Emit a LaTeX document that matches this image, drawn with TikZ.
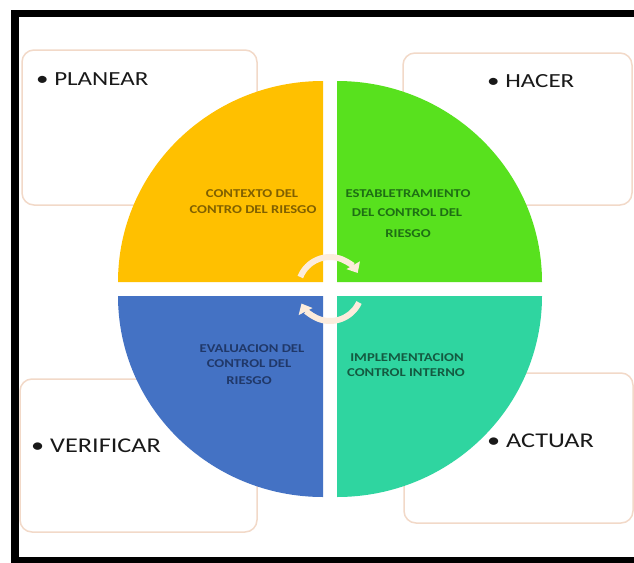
\documentclass[tikz,border=0pt]{standalone}
\usepackage{fontspec}
\setmainfont{Carlito}
\newfontfamily\labfont[FakeStretch=1.25]{Carlito}
\newfontfamily\innfont[FakeStretch=1.22]{Carlito}
\usetikzlibrary{arrows.meta}
\definecolor{qOrange}{RGB}{255,192,0}
\definecolor{qGreen}{RGB}{88,225,30}
\definecolor{qBlue}{RGB}{68,114,196}
\definecolor{qTeal}{RGB}{47,213,160}
\definecolor{tOrange}{RGB}{128,96,0}
\definecolor{tGreen}{RGB}{30,110,20}
\definecolor{tBlue}{RGB}{32,56,105}
\definecolor{tTeal}{RGB}{20,90,65}
\definecolor{peach}{RGB}{242,217,200}
\definecolor{cream}{RGB}{252,236,220}
\definecolor{labgray}{RGB}{25,25,25}
\tikzset{
  boxst/.style={draw=peach, line width=1.5pt, fill=white, rounded corners=12pt, inner sep=0pt},
  lab/.style={font=\labfont\fontsize{20}{24}\selectfont, text=labgray, inner sep=0pt, anchor=base west},
  inn/.style={font=\innfont\bfseries\fontsize{12}{14}\selectfont, inner sep=0pt, anchor=base},
  cyc/.style={draw=cream, line width=6pt, -{Triangle[width=15pt,length=9pt]}}
}
\begin{document}
\begin{tikzpicture}[x=1pt,y=-1pt]
\useasboundingbox (0,0) rectangle (634,562);
\clip (0,0) rectangle (634,562);
% frame
\fill[black] (11,10) rectangle (660,590);
\fill[white] (18.5,17) rectangle (660,557);
% boxes
\node[boxst, minimum width=235pt, minimum height=155pt] (bplan) at (139.5,127.5) {};
\node[boxst, minimum width=229pt, minimum height=152pt] (bhacer) at (517.5,129) {};
\node[boxst, minimum width=237pt, minimum height=153pt] (bverif) at (138.5,455.5) {};
\node[boxst, minimum width=229pt, minimum height=150pt] (bactuar) at (518.5,448) {};
% quarters
\fill[qOrange] (323,282) -- (118,282) arc[start angle=180, end angle=270, x radius=205, y radius=201] -- cycle;
\fill[qGreen] (337,282) -- (337,81) arc[start angle=270, end angle=360, x radius=205, y radius=201] -- cycle;
\fill[qTeal] (337,296) -- (542,296) arc[start angle=0, end angle=90, x radius=205, y radius=201] -- cycle;
\fill[qBlue] (323,296) -- (323,497) arc[start angle=90, end angle=180, x radius=205, y radius=201] -- cycle;
% cycle arrows
\coordinate (cc) at (330,289);
\draw[cyc] ([shift={(202:32)}]cc) arc[start angle=202, end angle=330, radius=32];
\draw[cyc] ([shift={(25:32)}]cc) arc[start angle=25, end angle=153, radius=32];
% labels
\node[lab] (lplan) at (36,85) {• PLANEAR};
\node[lab] (lhacer) at (487,87) {• HACER};
\node[lab, font=\labfont\fontsize{21}{24}\selectfont] (lverif) at (31,452) {• VERIFICAR};
\node[lab, font=\labfont\fontsize{21}{24}\selectfont] (lactuar) at (487,447) {• ACTUAR};
% inner texts
\node[inn, text=tOrange] (o1) at (252,197) {CONTEXTO DEL};
\node[inn, text=tOrange] (o2) at (253,213) {CONTRO DEL RIESGO};
\node[inn, text=tGreen] (g1) at (408,197) {ESTABLETRAMIENTO};
\node[inn, text=tGreen] (g2) at (407,216) {DEL CONTROL DEL};
\node[inn, text=tGreen] (g3) at (408,237) {RIESGO};
\node[inn, text=tBlue] (b1) at (252,352) {EVALUACION DEL};
\node[inn, text=tBlue] (b2) at (249,367) {CONTROL DEL};
\node[inn, text=tBlue] (b3) at (249,384) {RIESGO};
\node[inn, text=tTeal] (t1) at (407,361) {IMPLEMENTACION};
\node[inn, text=tTeal] (t2) at (406,376) {CONTROL INTERNO};
\end{tikzpicture}
\end{document}
